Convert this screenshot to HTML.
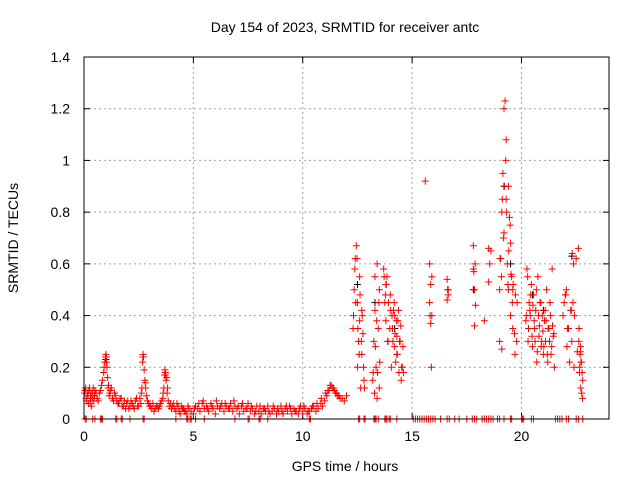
<!DOCTYPE html>
<html><head><meta charset="utf-8"><style>
body{margin:0;background:#fff;}
svg{display:block;font-family:"Liberation Sans",sans-serif;}
</style></head><body>
<svg id="chart" width="640" height="480">
<text x="345" y="32" text-anchor="middle" font-size="14">Day 154 of 2023, SRMTID for receiver antc</text>
<text x="345" y="471" text-anchor="middle" font-size="14">GPS time / hours</text>
<text transform="translate(18,238) rotate(-90)" text-anchor="middle" font-size="14">SRMTID / TECUs</text>
<g id="grid"></g><g id="ticks"></g><g id="marks"></g>
<rect x="84" y="57" width="525" height="362" fill="none" stroke="#000" stroke-width="1"/>
</svg>
<script>
const xTicks=[0,5,10,15,20];
const yTicks=[0,0.2,0.4,0.6,0.8,1,1.2,1.4];
const yTickLabels=["0","0.2","0.4","0.6","0.8","1","1.2","1.4"];
const redTimes=[0.05,0.1,0.15,0.2,0.25,0.3,0.35,0.4,0.45,0.5,0.6,0.7,0.8,0.9,0.95,1.0,1.02,1.05,1.08,1.1,1.15,1.2,1.3,1.4,1.5,1.6,1.7,1.8,1.9,2.0,2.1,2.2,2.3,2.4,2.5,2.6,2.65,2.7,2.72,2.75,2.8,2.85,2.9,3.0,3.1,3.2,3.3,3.4,3.5,3.6,3.65,3.7,3.72,3.75,3.8,3.85,3.9,4.0,4.1,4.2,4.3,4.4,4.5,4.6,4.7,4.8,4.9,5.0,5.1,5.2,5.3,5.4,5.5,5.6,5.7,5.8,5.9,6.0,6.1,6.2,6.3,6.4,6.5,6.6,6.7,6.8,6.9,7.0,7.1,7.2,7.3,7.4,7.5,7.6,7.7,7.8,7.9,8.0,8.1,8.2,8.3,8.4,8.5,8.6,8.7,8.8,8.9,9.0,9.1,9.2,9.3,9.4,9.5,9.6,9.7,9.8,9.9,10.0,10.1,10.2,10.3,10.4,10.5,10.6,10.7,10.8,10.9,11.0,11.1,11.2,11.3,11.4,11.5,11.6,11.7,11.8,11.9,12.0,12.3,12.35,12.4,12.45,12.5,12.5,12.55,12.6,12.6,12.65,12.7,12.7,12.75,12.8,13.2,13.25,13.3,13.3,13.35,13.4,13.4,13.45,13.5,13.5,13.7,13.75,13.8,13.8,13.85,13.9,14.0,14.05,14.1,14.15,14.2,14.2,14.25,14.3,14.3,14.35,14.4,14.45,14.5,14.55,14.6,15.6,15.8,15.8,15.85,15.85,15.9,15.9,16.6,16.6,16.65,16.65,17.8,17.8,17.85,17.85,17.9,18.3,18.5,18.5,18.55,18.6,19.0,19.0,19.05,19.1,19.1,19.15,19.2,19.2,19.25,19.3,19.3,19.35,19.4,19.4,19.45,19.5,19.5,19.55,19.6,19.6,19.7,19.8,20.2,20.25,20.3,20.35,20.4,20.45,20.5,20.55,20.6,20.65,20.7,20.75,20.8,20.85,20.9,20.95,21.0,21.05,21.1,21.15,21.2,21.25,21.3,21.35,21.4,21.45,21.5,21.9,22.0,22.05,22.1,22.2,22.25,22.3,22.35,22.4,22.5,22.6,22.62,22.65,22.68,22.7,22.72,22.75,22.8];
const redValues=[0.11,0.08,0.1,0.06,0.12,0.09,0.05,0.1,0.07,0.11,0.08,0.1,0.13,0.18,0.22,0.25,0.24,0.2,0.16,0.12,0.09,0.11,0.08,0.1,0.07,0.06,0.08,0.05,0.04,0.07,0.05,0.06,0.04,0.08,0.05,0.06,0.12,0.25,0.24,0.19,0.14,0.09,0.07,0.05,0.04,0.03,0.05,0.04,0.06,0.08,0.12,0.19,0.18,0.15,0.1,0.07,0.05,0.04,0.06,0.03,0.05,0.02,0.04,0.03,0.02,0.04,0.03,0.02,0.05,0.04,0.03,0.06,0.04,0.05,0.03,0.06,0.04,0.02,0.05,0.04,0.06,0.03,0.05,0.04,0.06,0.03,0.05,0.04,0.02,0.05,0.03,0.04,0.06,0.03,0.04,0.02,0.05,0.03,0.02,0.04,0.03,0.05,0.02,0.03,0.04,0.02,0.03,0.05,0.02,0.04,0.03,0.05,0.02,0.04,0.03,0.02,0.05,0.03,0.04,0.02,0.03,0.04,0.05,0.03,0.04,0.06,0.05,0.07,0.09,0.11,0.13,0.12,0.1,0.09,0.08,0.08,0.07,0.09,0.35,0.5,0.62,0.67,0.45,0.2,0.3,0.55,0.38,0.12,0.42,0.25,0.33,0.15,0.15,0.3,0.42,0.55,0.2,0.08,0.6,0.35,0.12,0.5,0.58,0.45,0.52,0.38,0.55,0.3,0.48,0.2,0.35,0.42,0.28,0.4,0.22,0.32,0.25,0.38,0.18,0.3,0.15,0.2,0.18,0.92,0.6,0.45,0.52,0.37,0.4,0.55,0.54,0.46,0.5,0.48,0.67,0.58,0.36,0.5,0.44,0.38,0.66,0.53,0.6,0.65,0.3,0.5,0.62,0.8,0.27,0.95,1.2,0.72,1.23,0.85,1.08,0.6,0.9,0.5,0.78,0.68,0.4,0.55,0.35,0.5,0.25,0.45,0.38,0.58,0.3,0.45,0.4,0.52,0.28,0.48,0.35,0.42,0.22,0.55,0.32,0.45,0.28,0.4,0.25,0.38,0.3,0.5,0.22,0.35,0.45,0.25,0.58,0.32,0.2,0.4,0.48,0.5,0.35,0.22,0.42,0.3,0.45,0.2,0.62,0.66,0.3,0.18,0.25,0.28,0.22,0.1,0.15,0.05,0.3,0.24,0.2];
const extraTimes=[0.02,0.08,0.12,0.18,0.22,0.28,0.32,0.38,0.42,0.48,0.55,0.65,0.75,0.85,0.92,0.98,1.03,1.12,1.18,1.25,1.35,1.45,1.55,1.65,1.75,1.85,1.95,2.05,2.15,2.25,2.35,2.45,2.55,2.62,2.68,2.78,2.82,2.95,3.05,3.15,3.25,3.35,3.45,3.55,3.62,3.68,3.78,3.82,3.95,4.05,4.15,4.25,4.35,4.45,4.55,4.65,4.75,5.05,5.25,5.45,5.65,5.85,6.05,6.25,6.45,6.65,6.85,7.05,7.25,7.45,7.65,7.85,8.05,8.25,8.45,8.65,8.85,9.05,9.25,9.45,9.65,9.85,10.05,10.25,10.45,10.65,10.85,11.05,11.15,11.25,11.35,11.45,11.55,11.65,12.32,12.38,12.42,12.48,12.52,12.58,12.62,12.68,12.72,12.78,12.82,13.22,13.28,13.32,13.38,13.42,13.48,13.52,13.72,13.78,13.82,13.88,13.92,13.98,14.02,14.08,14.12,14.18,14.22,14.28,14.32,14.38,14.42,14.48,14.52,14.58,15.82,15.88,16.62,17.82,17.88,19.02,19.08,19.12,19.18,19.22,19.28,19.32,19.38,19.42,19.48,19.52,19.58,19.62,19.68,19.72,19.78,20.22,20.28,20.32,20.38,20.42,20.48,20.52,20.58,20.62,20.68,20.72,20.78,20.82,20.88,20.92,20.98,21.02,21.08,21.12,21.18,21.22,21.28,21.32,21.38,21.42,21.48,21.95,22.02,22.08,22.15,22.28,22.32,22.38,22.42,22.55,22.63,22.66,22.69,22.71,22.74,22.77,22.79];
const extraValues=[0.1,0.12,0.07,0.09,0.11,0.06,0.1,0.08,0.12,0.09,0.1,0.07,0.11,0.15,0.2,0.24,0.22,0.13,0.1,0.12,0.07,0.09,0.06,0.08,0.05,0.07,0.06,0.04,0.07,0.05,0.07,0.05,0.08,0.1,0.22,0.15,0.12,0.06,0.05,0.06,0.04,0.05,0.05,0.07,0.1,0.17,0.16,0.12,0.06,0.05,0.04,0.06,0.03,0.05,0.04,0.03,0.05,0.04,0.06,0.07,0.04,0.05,0.07,0.05,0.06,0.04,0.07,0.05,0.06,0.04,0.05,0.03,0.05,0.04,0.03,0.05,0.04,0.03,0.05,0.04,0.03,0.04,0.05,0.03,0.05,0.06,0.08,0.1,0.11,0.13,0.12,0.11,0.1,0.09,0.4,0.58,0.45,0.62,0.35,0.25,0.48,0.3,0.4,0.2,0.12,0.18,0.1,0.28,0.38,0.18,0.45,0.22,0.55,0.48,0.52,0.3,0.45,0.35,0.42,0.4,0.3,0.45,0.33,0.38,0.25,0.42,0.3,0.36,0.2,0.28,0.4,0.2,0.5,0.57,0.6,0.62,0.55,0.85,0.7,0.9,1.0,0.8,0.52,0.65,0.75,0.56,0.45,0.52,0.33,0.48,0.3,0.4,0.55,0.35,0.42,0.48,0.32,0.44,0.38,0.3,0.5,0.26,0.4,0.36,0.45,0.3,0.34,0.28,0.42,0.38,0.25,0.35,0.3,0.4,0.28,0.36,0.33,0.45,0.48,0.28,0.35,0.42,0.64,0.6,0.4,0.26,0.35,0.2,0.26,0.12,0.22,0.18,0.08,0.26,0.22];
const blackTimes=[0.3,1.0,2.7,3.7,12.5,13.3,14.2,17.8,19.2,19.5,20.5,21.0,22.3];
const blackValues=[0.08,0.23,0.24,0.17,0.52,0.45,0.35,0.5,0.9,0.6,0.48,0.42,0.63];
const zeroTimes=[0.05,0.1,0.4,0.5,0.75,0.8,0.85,1.45,1.5,1.7,1.75,2.1,2.7,2.75,4.2,4.7,4.75,4.85,4.9,5.1,5.5,6.9,7.5,7.55,8.0,8.05,8.4,10.3,10.35,12.55,12.6,12.8,12.85,13.25,13.3,13.35,13.45,13.75,13.8,13.85,13.95,14.0,14.3,15.05,15.15,15.25,15.35,15.45,15.55,15.65,15.75,15.85,15.95,16.05,16.3,16.6,16.7,16.95,17.15,17.5,17.75,17.85,17.95,18.2,18.3,18.4,18.5,18.6,18.7,18.9,19.0,19.2,19.5,19.55,20.0,20.05,20.1,20.45,20.55,21.55,21.65,21.75,21.85,22.05,22.15,22.5,22.6,22.8];
const X=t=>84+t*525/24, Y=v=>419-v*362/1.4;
const NS="http://www.w3.org/2000/svg";
function mk(tag,attrs,parent){const e=document.createElementNS(NS,tag);for(const k in attrs)e.setAttribute(k,attrs[k]);parent.appendChild(e);return e;}
const grid=document.getElementById('grid'),ticks=document.getElementById('ticks'),marks=document.getElementById('marks');
xTicks.forEach(t=>{
 if(t>0){const g=mk('line',{x1:X(t),x2:X(t),y1:57,y2:419,stroke:'#a0a0a0','stroke-dasharray':'2,3'},grid);
 
 }
 const tx=mk('text',{x:X(t),y:441,'text-anchor':'middle','font-size':'14'},ticks);tx.textContent=t;
 
 
 mk('line',{x1:X(t),x2:X(t),y1:419,y2:413,stroke:'#000'},ticks);mk('line',{x1:X(t),x2:X(t),y1:57,y2:63,stroke:'#000'},ticks);
});
yTicks.forEach((v,i)=>{
 if(v>0&&v<1.4){const g=mk('line',{x1:84,x2:609,y1:Y(v),y2:Y(v),stroke:'#a0a0a0','stroke-dasharray':'2,3'},grid);
 
 }
 const tx=mk('text',{x:70,y:Y(v)+5,'text-anchor':'end','font-size':'14'},ticks);tx.textContent=yTickLabels[i];
 
 
 mk('line',{x1:84,x2:90,y1:Y(v),y2:Y(v),stroke:'#000'},ticks);mk('line',{x1:603,x2:609,y1:Y(v),y2:Y(v),stroke:'#000'},ticks);
});
function plus(t,v,col,name){const x=X(t),y=Y(v);
 const p=mk('path',{d:`M${x-3.5},${y}h7M${x},${y-3.5}v7`,stroke:col,'stroke-width':'1',fill:'none'},marks);
 
 }
blackTimes.forEach((t,i)=>plus(t,blackValues[i],'#000','black-point'));
redTimes.forEach((t,i)=>plus(t,redValues[i],'#f00','red-point'));
extraTimes.forEach((t,i)=>plus(t,extraValues[i],'#f00','red-point'));
zeroTimes.forEach(t=>plus(t,0,'#f00','zero-point'));
</script>
</body></html>
